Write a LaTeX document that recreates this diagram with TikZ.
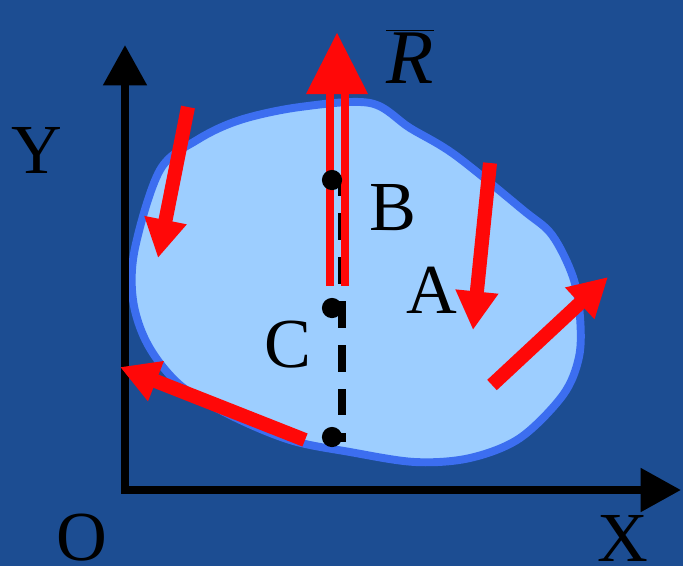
\documentclass[tikz,border=0pt]{standalone}
\usepackage{fontspec}
\setmainfont{Liberation Serif}
\usetikzlibrary{arrows.meta}
\definecolor{bgblue}{RGB}{28,77,146}
\definecolor{blobfill}{RGB}{157,206,255}
\definecolor{blobedge}{RGB}{60,110,240}
\definecolor{forcered}{RGB}{255,8,8}
\tikzset{
  axis/.style={line width=4.5pt,-{Triangle[width=24pt,length=23pt]}},
  force/.style={forcered,line width=8pt,-{Triangle[width=23pt,length=22pt]}},
  lbl/.style={font=\fontsize{40}{48}\selectfont,text=black,inner sep=0pt},
  pt/.style={circle,fill=black,inner sep=0pt,minimum size=11.5pt},
}
\begin{document}
\begin{tikzpicture}[x=0.02cm,y=-0.02cm]
\fill[bgblue] (0,0) rectangle (683,566);
\useasboundingbox (0,0) rectangle (683,566);
% body
\draw[blobedge,line width=4.5pt,fill=blobfill] plot[smooth cycle,tension=0.55] coordinates {
 (300,107) (370,103) (410,128) (455,155) (523,210) (552,235) (573,277) (580,317) (579,357) (563,395)
 (520,438) (470,458) (415,462) (350,452) (290,440) (230,415) (180,385) (148,345) (133,300) (135,248) (160,170) (197,140) (240,120)};
% axes
\coordinate (O) at (125,490);
\coordinate (Ytip) at (125,45);
\coordinate (Xtip) at (681,490);
\draw[axis] (O) -- (Ytip);
\draw[axis] ([xshift=-2pt]O) -- (Xtip);
% labels
\node[lbl] (Ylab) at (37,150) {Y};
\node[lbl,anchor=base,text depth=0pt] (Olab) at (82,560) {O};
\node[lbl,anchor=base,text depth=0pt] (Xlab) at (623,561) {X};
\node[lbl] (Blab) at (393,208) {B};
\node[lbl] (Alab) at (432,290) {A};
\node[lbl] (Clab) at (288,345) {C};
\node[lbl,font=\fontsize{44}{50}\selectfont] (Rlab) at (410,56) {$\overline{\textit{R}}$};
% dashed line of action
\coordinate (Bd) at (342,180);
\coordinate (Dd) at (342,442);
\draw[black,line width=4pt,dash pattern=on 15pt off 10pt,dash phase=6pt] (Bd) -- (Dd);
% resultant R
\coordinate (Rtip) at (337,33);
\coordinate (Rbl) at (306,94);
\coordinate (Rbr) at (368,94);
\coordinate (Rl1) at (330,92);
\coordinate (Rl2) at (330,286);
\coordinate (Rr1) at (345,92);
\coordinate (Rr2) at (345,286);
\fill[forcered] (Rbl) -- (Rbr) -- (Rtip) -- cycle;
\draw[forcered,line width=4.8pt] (Rl1) -- (Rl2);
\draw[forcered,line width=4.8pt] (Rr1) -- (Rr2);
% points
\node[pt] (B) at (332,180) {};
\node[pt] (C) at (332,308) {};
\node[pt] (D) at (332,437) {};
% forces
\coordinate (F1a) at (188,107); \coordinate (F1b) at (158,258);
\coordinate (F2a) at (490,163); \coordinate (F2b) at (473,330);
\coordinate (F3a) at (492,385); \coordinate (F3b) at (608,277);
\coordinate (F4a) at (305,440); \coordinate (F4b) at (120,367);
\draw[force] (F1a) -- (F1b);
\draw[force] (F2a) -- (F2b);
\draw[force] (F3a) -- (F3b);
\draw[force] (F4a) -- (F4b);
\end{tikzpicture}
\end{document}
